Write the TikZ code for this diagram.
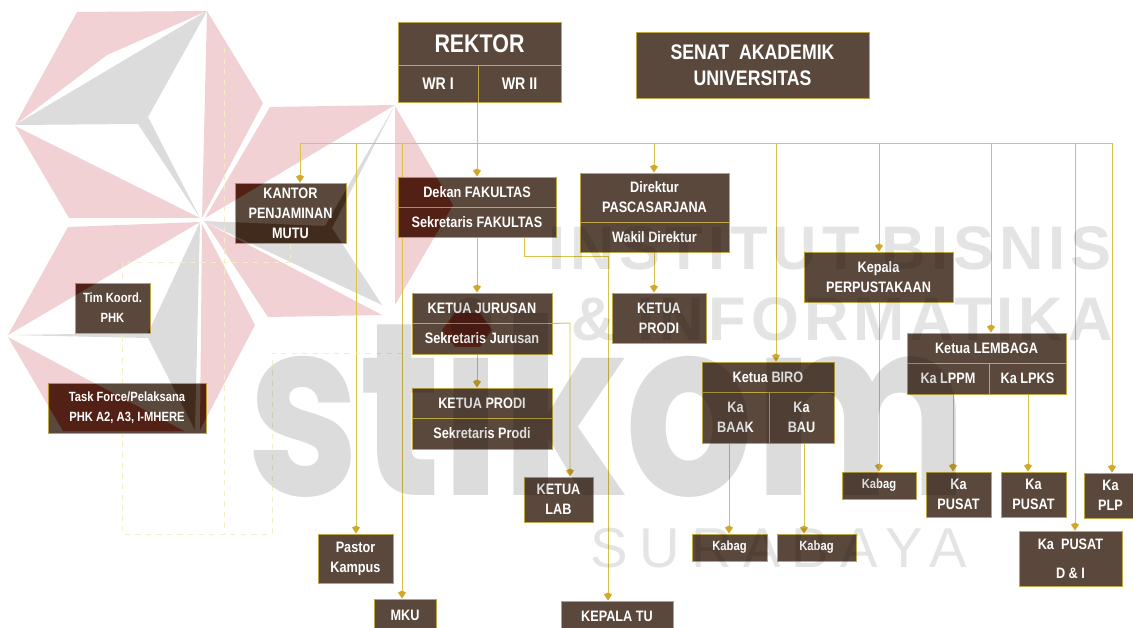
\documentclass[tikz,border=0pt]{standalone}
\usepackage{fontspec}
\setmainfont[FakeStretch=0.84]{Liberation Sans}
\newfontfamily\wmbold[LetterSpace=8]{Liberation Sans Bold}
\newfontfamily\wmthin[LetterSpace=20]{Liberation Sans}
\newfontfamily\wmlogo{Poppins Bold}
\usetikzlibrary{arrows.meta, positioning}
\definecolor{boxfill}{HTML}{5B483C}
\definecolor{boxline}{HTML}{BFA843}
\definecolor{linkyellow}{HTML}{D8C448}
\definecolor{tipgold}{HTML}{D2A82A}
\definecolor{dashyellow}{HTML}{F3EEC6}
\definecolor{wmred}{HTML}{F2D1D4}
\definecolor{wmgray}{HTML}{DCDCDC}
\definecolor{wmlight}{HTML}{E4E4E4}
\pgfdeclarelayer{wmlayer}
\pgfdeclarelayer{linklayer}
\pgfsetlayers{wmlayer,linklayer,main}
\tikzset{
  orgbox/.style={draw=boxline, line width=0.55pt, fill=boxfill, text=white, align=center,
    inner sep=0pt, font=\bfseries\fontsize{8.6}{11.4}\selectfont},
  small/.style={font=\bfseries\fontsize{7.6}{11.4}\selectfont},
  link/.style={draw=linkyellow, line width=0.55pt},
  linktip/.style={link, -{Kite[length=4.5pt, width=4.5pt, color=tipgold]}},
  dashlink/.style={draw=dashyellow, line width=0.45pt, dashed},
  wmtext/.style={inner sep=0pt, text=wmlight}
}
\newcommand{\orgcell}[7][]{\node[orgbox, #1, minimum width={(#5-#3)*0.02cm}, minimum height={(#6-#4)*0.02cm}] (#2) at ({(#3+#5)/2},{(#4+#6)/2}) {#7};}
\newcommand{\wmshapes}{
  \fill[wmred] (77,12) -- (207,11) -- (107,55) -- (15,125) -- cycle;
  \fill[wmred] (207,11) -- (263,103) -- (202,218) -- cycle;
  \fill[wmred] (15,126) -- (200,218) -- (69,218) -- cycle;
  \fill[wmred] (270,107) -- (395,105) -- (205,218) -- cycle;
  \fill[wmred] (395,106) -- (453,205) -- (395,305) -- cycle;
  \fill[wmred] (205,222) -- (382,315) -- (268,317) -- cycle;
  \fill[wmred] (68,227) -- (200,222) -- (8,335) -- cycle;
  \fill[wmred] (8,337) -- (184,431) -- (63,431) -- cycle;
  \fill[wmred] (202,224) -- (255,325) -- (200,430) -- cycle;
  \fill[wmred] (442,330) -- (455,313) -- (480,313) -- (492,330) -- (480,347) -- (455,347) -- cycle;
  \fill[wmgray] (15,125) -- (207,11) -- (148,117) -- (200,218) -- (138,124) -- cycle;
  \fill[wmgray] (203,221) -- (325,226) -- (395,105) -- (332,228) -- (382,305) -- cycle;
  \fill[wmgray] (200,222) -- (148,333) -- (8,335) -- (148,338) -- (195,430) -- cycle;
}
\begin{document}
\begin{tikzpicture}[x=0.02cm, y=-0.02cm]
\useasboundingbox (0,0) rectangle (1133,628);

\orgcell{rektor}{398}{22}{561}{65}{\fontsize{14.5}{16}\selectfont REKTOR}
\orgcell{wrone}{398}{65}{478}{102}{\fontsize{9.6}{11}\selectfont WR I}
\orgcell{wrtwo}{478}{65}{561}{102}{\fontsize{9.6}{11}\selectfont WR II}
\orgcell{senat}{636}{32}{869}{98}{\fontsize{12}{15}\selectfont SENAT\ \ AKADEMIK\\[3.5pt]\fontsize{12}{15}\selectfont UNIVERSITAS}
\orgcell{kantor}{235}{183}{346}{243}{KANTOR\\PENJAMINAN\\MUTU}
\orgcell{dekan}{398}{177}{556}{207}{Dekan FAKULTAS}
\orgcell{sekfak}{398}{207}{556}{237}{Sekretaris FAKULTAS}
\orgcell{direktur}{580}{173}{729}{222}{Direktur\\PASCASARJANA}
\orgcell{wakil}{580}{222}{729}{252}{Wakil Direktur}
\orgcell{jurusan}{412}{293}{552}{323}{KETUA JURUSAN}
\orgcell{sekjur}{412}{323}{552}{354}{Sekretaris Jurusan}
\orgcell{prodi}{412}{388}{552}{418}{KETUA PRODI}
\orgcell{sekprodi}{412}{418}{552}{449}{Sekretaris Prodi}
\orgcell{lab}{524}{477}{593}{522}{KETUA\\LAB}
\orgcell{prodipasca}{612}{293}{706}{343}{KETUA\\PRODI}
\orgcell{pastor}{318}{534}{393}{583}{Pastor\\Kampus}
\orgcell{mku}{374}{599}{436}{632}{MKU}
\orgcell{kepalatu}{561}{601}{673}{632}{KEPALA TU}
\orgcell[small]{timkoord}{75}{283}{150}{333}{Tim Koord.\\PHK}
\orgcell[small]{taskforce}{48}{383}{206}{433}{Task Force/Pelaksana\\PHK A2, A3, I-MHERE}
\orgcell{perpus}{804}{252}{953}{302}{Kepala\\PERPUSTAKAAN}
\orgcell{lembaga}{907}{333}{1066}{363}{Ketua LEMBAGA}
\orgcell{lppm}{907}{363}{989}{394}{Ka LPPM}
\orgcell{lpks}{989}{363}{1066}{394}{Ka LPKS}
\orgcell{biro}{702}{362}{834}{392}{Ketua BIRO}
\orgcell{baak}{702}{392}{769}{443}{Ka\\BAAK}
\orgcell{bau}{769}{392}{834}{443}{Ka\\BAU}
\orgcell[small]{kabagbaak}{692}{534}{767}{561}{Kabag}
\orgcell[small]{kabagbau}{777}{534}{856}{561}{Kabag}
\orgcell[small]{kabagperpus}{842}{472}{916}{499}{Kabag}
\orgcell{pusatlppm}{926}{472}{991}{517}{Ka\\PUSAT}
\orgcell{pusatlpks}{1001}{472}{1066}{517}{Ka\\PUSAT}
\orgcell{plp}{1084}{473}{1137}{518}{Ka\\PLP}
\orgcell{pusatdi}{1019}{531}{1122}{586}{Ka\ \ PUSAT\\[5pt]D \& I}

\coordinate (railleft) at (300,143);
\coordinate (railright) at (1112,143);
\coordinate (railpastor) at (356,143);
\coordinate (railmku) at (402,143);
\coordinate (railrektor) at (477,143);
\coordinate (raildirektur) at (654,143);
\coordinate (railbiro) at (776,143);
\coordinate (railperpus) at (879,143);
\coordinate (raillembaga) at (991,143);
\coordinate (raildi) at (1075,143);
\coordinate (tuout) at (524,237);
\coordinate (tubend) at (608,256);
\coordinate (labbend) at (570,323);
\coordinate (baakout) at (729,443);
\coordinate (bauout) at (804,443);
\coordinate (lppmout) at (953,394);
\coordinate (lpksout) at (1028,394);
\coordinate (dashtop) at (224,48);
\coordinate (dashleft) at (122,262);
\coordinate (dashright) at (290,262);
\coordinate (dashlow) at (122,534);
\coordinate (dashbot) at (224,534);
\coordinate (dashend) at (272,534);
\coordinate (dashup) at (272,353);
\coordinate (dashin) at (402,353);

\begin{pgfonlayer}{wmlayer}
\wmshapes
\end{pgfonlayer}

\begin{pgfonlayer}{linklayer}
\draw[link] (railleft) -- (railright);
\draw[linktip] (railleft) -- (railleft |- kantor.north);
\draw[linktip] (railpastor) -- (railpastor |- pastor.north);
\draw[linktip] (railmku) -- (railmku |- mku.north);
\draw[link] (railrektor |- wrone.south) -- (railrektor);
\draw[linktip] (railrektor) -- (railrektor |- dekan.north);
\draw[linktip] (raildirektur) -- (raildirektur |- direktur.north);
\draw[linktip] (railbiro) -- (railbiro |- biro.north);
\draw[linktip] (railperpus) -- (railperpus |- perpus.north);
\draw[linktip] (railperpus |- perpus.south) -- (railperpus |- kabagperpus.north);
\draw[linktip] (raillembaga) -- (raillembaga |- lembaga.north);
\draw[linktip] (raildi) -- (raildi |- pusatdi.north);
\draw[linktip] (railright) -- (railright |- plp.north);
\draw[linktip] (railrektor |- sekfak.south) -- (railrektor |- jurusan.north);
\draw[linktip] (railrektor |- sekjur.south) -- (railrektor |- prodi.north);
\draw[linktip] (tuout) |- (tubend) -- (tubend |- kepalatu.north);
\draw[linktip] (raildirektur |- wakil.south) -- (raildirektur |- prodipasca.north);
\draw[linktip] (jurusan.south east) -- (labbend) -- (labbend |- lab.north);
\draw[linktip] (baakout) -- (baakout |- kabagbaak.north);
\draw[linktip] (bauout) -- (bauout |- kabagbau.north);
\draw[linktip] (lppmout) -- (lppmout |- pusatlppm.north);
\draw[linktip] (lpksout) -- (lpksout |- pusatlpks.north);
\draw[dashlink] (dashtop) -- (dashbot);
\draw[dashlink] (dashright) -- (dashleft) -- (dashlow) -- (dashend) -- (dashup) -- (dashin);
\draw[dashlink] (kantor.south -| dashright) -- (dashright);
\end{pgfonlayer}

\begin{scope}[blend mode=color burn]
\clip (kantor.north west) rectangle (kantor.south east)
  (dekan.north west) rectangle (sekfak.south east)
  (jurusan.north west) rectangle (sekjur.south east)
  (timkoord.north west) rectangle (timkoord.south east)
  (taskforce.north west) rectangle (taskforce.south east);
\wmshapes
\end{scope}

\begin{scope}[blend mode=multiply]
\node[wmtext, text=wmgray, anchor=base west, xscale=0.82, font=\wmlogo\fontsize{140}{140}\selectfont] (wmstikom) at (247,495) {stikom};
\node[wmtext, anchor=base, font=\wmbold\fontsize{35}{35}\selectfont] (wminstitut) at (830,270) {INSTITUT BISNIS};
\node[wmtext, anchor=base, font=\wmbold\fontsize{35}{35}\selectfont] (wminformatika) at (842,340) {\& INFORMATIKA};
\node[wmtext, anchor=base, font=\wmthin\fontsize{32}{32}\selectfont] (wmsurabaya) at (779,567) {SURABAYA};
\end{scope}
\end{tikzpicture}
\end{document}
